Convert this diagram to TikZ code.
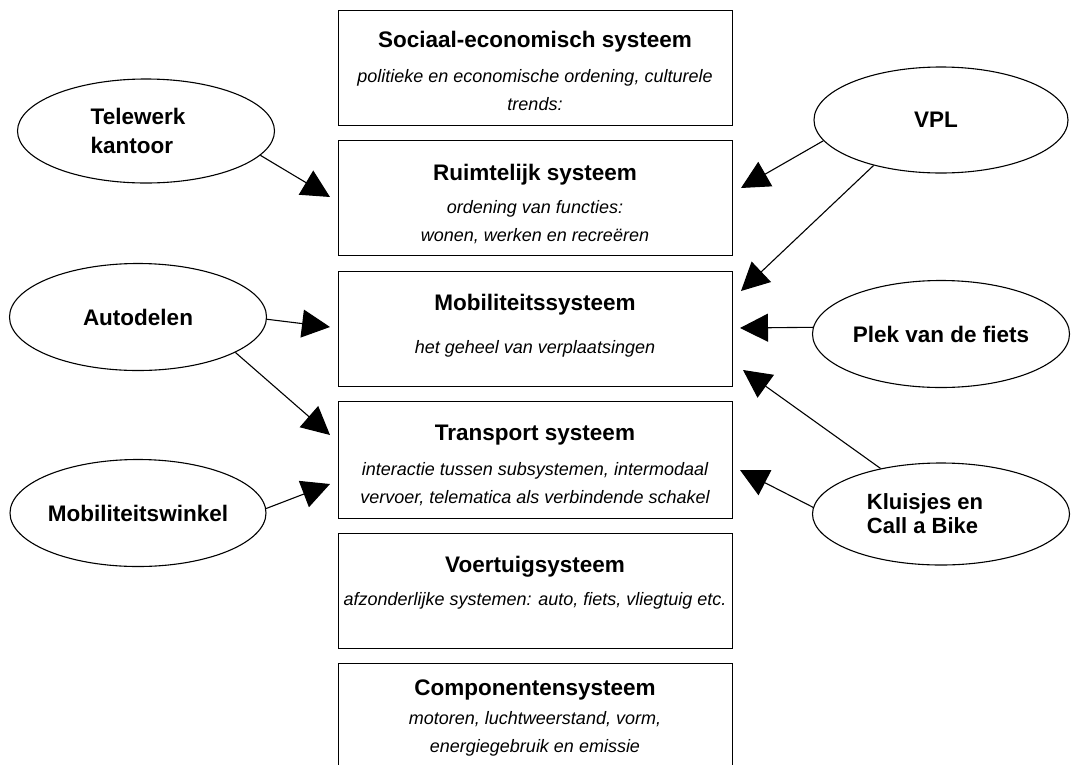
\documentclass[tikz,border=0pt]{standalone}
\usepackage{fontspec}
\setmainfont{Liberation Sans}
\usetikzlibrary{arrows.meta,shapes.geometric}

\begin{document}
\begin{tikzpicture}[x=1pt,y=-1pt,
  sysbox/.style={draw,line width=1.3pt,rectangle,inner sep=0pt,
    minimum width=394pt,anchor=north west},
  systitle/.style={anchor=base,inner sep=0pt,
    font=\fontsize{22.5}{27}\selectfont\bfseries},
  sysnote/.style={anchor=base,inner sep=0pt,
    font=\fontsize{18}{22}\selectfont\itshape},
  oval/.style={ellipse,draw,line width=1.1pt,inner sep=0pt,align=left,
    font=\fontsize{22.5}{29}\selectfont\bfseries},
  conn/.style={line width=1.1pt,-{Triangle[length=28pt,width=28pt]}}]

\clip (0,0) rectangle (1071,764);

% stacked system levels
\node[sysbox,minimum height=115pt] (soc) at (338,10) {};
\node[sysbox,minimum height=115pt] (ruim) at (338,140) {};
\node[sysbox,minimum height=115pt] (mob) at (338,271) {};
\node[sysbox,minimum height=117pt] (trans) at (338,401) {};
\node[sysbox,minimum height=115pt] (voer) at (338,533) {};
\node[sysbox,minimum height=130pt] (comp) at (338,663) {};

\node[systitle] (soc-t) at (535,47) {Sociaal-economisch systeem};
\node[sysnote] (soc-a) at (535,82) {politieke en economische ordening, culturele};
\node[sysnote] (soc-b) at (535,110) {trends:};

\node[systitle] (ruim-t) at (535,180) {Ruimtelijk systeem};
\node[sysnote] (ruim-a) at (535,213) {ordening van functies:};
\node[sysnote] (ruim-b) at (535,241) {wonen, werken en recreëren};

\node[systitle] (mob-t) at (535,310) {Mobiliteitssysteem};
\node[sysnote] (mob-a) at (535,353) {het geheel van verplaatsingen};

\node[systitle] (trans-t) at (535,440) {Transport systeem};
\node[sysnote] (trans-a) at (535,475) {interactie tussen subsystemen, intermodaal};
\node[sysnote] (trans-b) at (535,503) {vervoer, telematica als verbindende schakel};

\node[systitle] (voer-t) at (535,572) {Voertuigsysteem};
\node[sysnote] (voer-a) at (535,605) {afzonderlijke systemen: auto, fiets, vliegtuig etc.};

\node[systitle] (comp-t) at (535,695) {Componentensysteem};
\node[sysnote] (comp-a) at (535,724) {motoren, luchtweerstand, vorm,};
\node[sysnote] (comp-b) at (535,752) {energiegebruik en emissie};

% measures
\node[oval,minimum width=257pt,minimum height=104pt] (tele) at (146,131)
  {Telewerk\hspace*{16pt}\\kantoor\hspace*{16pt}};
\node[oval,minimum width=254pt,minimum height=106pt] (vpl) at (941,120)
  {VPL\hspace*{10pt}};
\node[oval,minimum width=257pt,minimum height=107pt] (auto) at (138,317) {Autodelen};
\node[oval,minimum width=257pt,minimum height=107pt] (plek) at (941,334) {Plek van de fiets};
\node[oval,minimum width=256pt,minimum height=107pt] (winkel) at (138,513)
  {Mobiliteitswinkel};
\node[oval,minimum width=257pt,minimum height=102pt,
  font=\fontsize{22}{24}\selectfont\bfseries] (kluis) at (941,514)
  {Kluisjes en\hspace*{32pt}\\Call a Bike\hspace*{32pt}};

% arrow tips in front of the system levels
\coordinate (ruim-w) at (330,197);
\coordinate (ruim-e) at (741,188);
\coordinate (mob-w) at (330,327);
\coordinate (mob-ne) at (741,291);
\coordinate (mob-e) at (740,328);
\coordinate (mob-se) at (743,370);
\coordinate (trans-nw) at (330,435);
\coordinate (trans-w) at (330,484);
\coordinate (trans-e) at (740,470);

\draw[conn] (tele.-12.6) -- (ruim-w);
\draw[conn] (vpl.-170.5) -- (ruim-e);
\draw[conn] (vpl.-146.9) -- (mob-ne);
\draw[conn] (auto.-1.3) -- (mob-w);
\draw[conn] (auto.-20.8) -- (trans-nw);
\draw[conn] (winkel.2.3) -- (trans-w);
\draw[conn] (plek.177) -- (mob-e);
\draw[conn] (kluis.143) -- (mob-se);
\draw[conn] (kluis.177.3) -- (trans-e);
\end{tikzpicture}
\end{document}
